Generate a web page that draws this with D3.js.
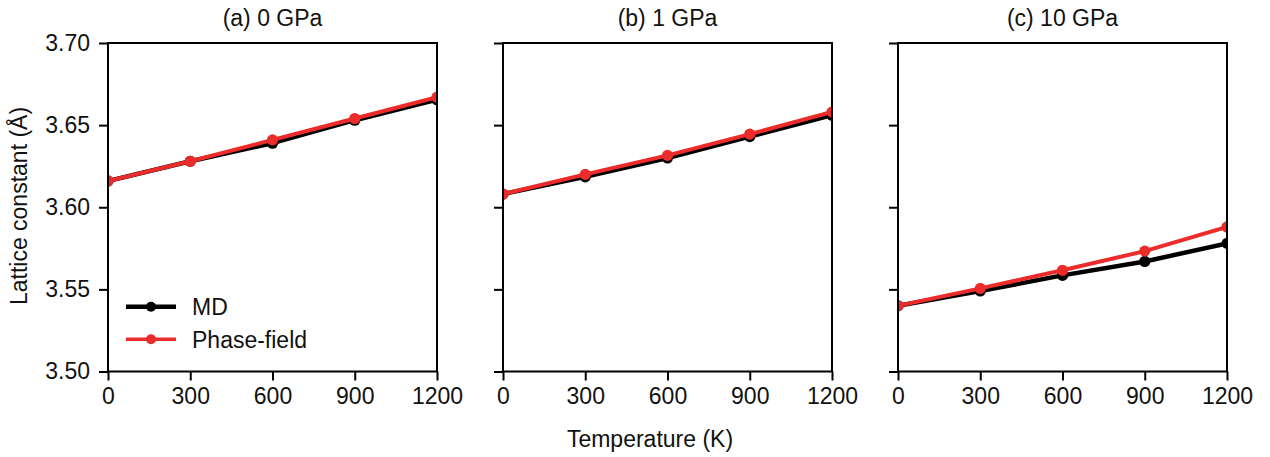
<!DOCTYPE html>
<html>
<head>
<meta charset="utf-8">
<script src="https://cdn.jsdelivr.net/npm/d3@7"></script>
<style>
  html, body { margin: 0; padding: 0; background: #fff; }
  svg { display: block; }
  text { font-family: "Liberation Sans", Arial, Helvetica, sans-serif; fill: #111; }
</style>
</head>
<body>
<svg id="chart" width="1270" height="457"></svg>
<script>
// Temperatures (K) shared by all panels
const temperatures = [0, 300, 600, 900, 1200];
const xTicks = [0, 300, 600, 900, 1200];
const yTicks = [3.50, 3.55, 3.60, 3.65, 3.70];

// Panel titles
const panelTitles = ["(a) 0 GPa", "(b) 1 GPa", "(c) 10 GPa"];

// Lattice constant (Å), MD simulation
const md0 = [3.616, 3.628, 3.639, 3.653, 3.6655];
const md1 = [3.608, 3.6185, 3.630, 3.643, 3.656];
const md10 = [3.540, 3.549, 3.5585, 3.567, 3.578];

// Lattice constant (Å), phase-field model
const pf0 = [3.616, 3.628, 3.641, 3.654, 3.667];
const pf1 = [3.608, 3.620, 3.6316, 3.6445, 3.658];
const pf10 = [3.540, 3.5506, 3.5616, 3.5733, 3.588];

const seriesNames = ["MD", "Phase-field"];

const panels = [
  { title: panelTitles[0], md: md0, pf: pf0, left: 108 },
  { title: panelTitles[1], md: md1, pf: pf1, left: 503 },
  { title: panelTitles[2], md: md10, pf: pf10, left: 898 }
];

const W = 329, plotTop = 43, plotBottom = 371.5;
const black = "#000", red = "#ec2b2b";
const FS = "23px";

const svg = d3.select("#chart");

panels.forEach((p, i) => {
  const x = d3.scaleLinear().domain([0, 1200]).range([p.left, p.left + W]);
  const y = d3.scaleLinear().domain([3.5, 3.7]).range([plotBottom, plotTop]);

  const g = svg.append("g");
  const clipId = "clip" + i;
  g.append("clipPath").attr("id", clipId)
    .append("rect").attr("x", p.left).attr("y", plotTop)
    .attr("width", W).attr("height", plotBottom - plotTop);

  const plot = g.append("g").attr("clip-path", `url(#${clipId})`);
  const line = d3.line().x((d, k) => x(temperatures[k])).y(d => y(d));

  [[p.md, black, 4.5], [p.pf, red, 4]].forEach(([vals, col, w]) => {
    plot.append("path").datum(vals)
      .attr("d", line).attr("fill", "none")
      .attr("stroke", col).attr("stroke-width", w)
      .attr("stroke-linejoin", "round");
    plot.selectAll(null).data(vals).enter().append("circle")
      .attr("cx", (d, k) => x(temperatures[k])).attr("cy", d => y(d))
      .attr("r", 5.6).attr("fill", col);
  });

  // frame
  g.append("rect").attr("x", p.left).attr("y", plotTop)
    .attr("width", W).attr("height", plotBottom - plotTop)
    .attr("fill", "none").attr("stroke", "#000").attr("stroke-width", 2);

  // x axis
  const xAxis = d3.axisBottom(x).tickValues(xTicks).tickSize(9).tickPadding(7)
    .tickFormat(d3.format("d"));
  const gx = g.append("g").attr("transform", `translate(0,${plotBottom})`).call(xAxis);
  gx.select(".domain").remove();
  gx.selectAll(".tick line").attr("stroke", "#000").attr("stroke-width", 2);
  gx.selectAll(".tick text").style("font-size", FS).attr("fill", "#111");

  // y axis
  const yAxis = d3.axisLeft(y).tickValues(yTicks).tickSize(9).tickPadding(9)
    .tickFormat(i === 0 ? d3.format(".2f") : () => "");
  const gy = g.append("g").attr("transform", `translate(${p.left},0)`).call(yAxis);
  gy.select(".domain").remove();
  gy.selectAll(".tick line").attr("stroke", "#000").attr("stroke-width", 2);
  gy.selectAll(".tick text").style("font-size", FS).attr("fill", "#111");

  // title
  g.append("text").attr("x", p.left + W / 2).attr("y", 26)
    .attr("text-anchor", "middle").style("font-size", FS).text(p.title);
});

// axis labels
svg.append("text").attr("x", 650).attr("y", 447)
  .attr("text-anchor", "middle").style("font-size", FS).text("Temperature (K)");
svg.append("text")
  .attr("transform", "translate(27,206) rotate(-90)")
  .attr("text-anchor", "middle").style("font-size", FS).text("Lattice constant (Å)");

// legend
const legend = svg.append("g");
[[seriesNames[0], black, 4.5, 306.7], [seriesNames[1], red, 3.6, 339.3]].forEach(([name, col, w, ly]) => {
  legend.append("line").attr("x1", 126).attr("x2", 176).attr("y1", ly).attr("y2", ly)
    .attr("stroke", col).attr("stroke-width", w);
  legend.append("circle").attr("cx", 151).attr("cy", ly).attr("r", 5).attr("fill", col);
  legend.append("text").attr("x", 192).attr("y", ly + 8.5)
    .style("font-size", FS).text(name);
});
</script>
</body>
</html>
